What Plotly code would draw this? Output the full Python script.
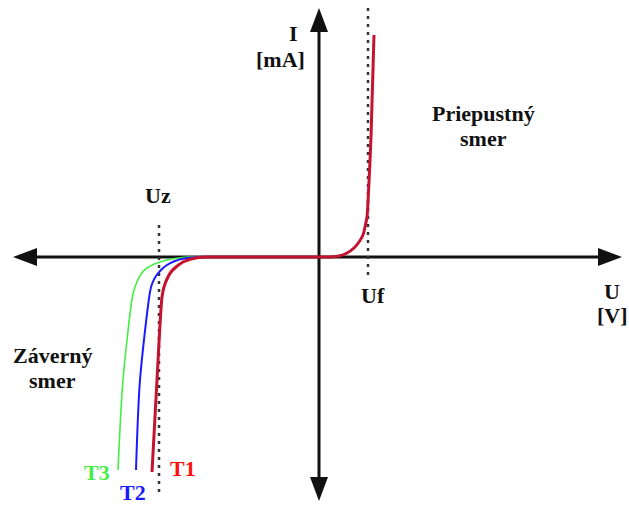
import plotly.graph_objects as go

# diagram units: 1 unit = 1 px, origin where the U and I axes cross
# T1 (red) - reverse branch, flat part, forward branch
t1_u = [-167, -162, -157, -155, -152, -148, -143, -136, -128, -120, -112, -60, 0, 12, 20, 28, 35, 40, 44, 46, 48, 49, 52, 55]
t1_i = [-215, -123, -40, -30, -22, -15, -10, -5, -2, -0.5, 0, 0, 0, 0, 1, 4, 9, 15, 22, 30, 40, 55, 120, 222]
# T2 (blue) - reverse branch only, joins the red curve on the axis
t2_u = [-183, -179, -169, -167, -163, -158, -152, -144, -135, -127, -119, -100]
t2_i = [-213, -123, -35, -27, -19, -13, -8, -4, -1.5, -0.5, 0, 0]
# T3 (green)
t3_u = [-201, -196, -187, -185, -182, -178, -172, -162, -152, -140, -131, -100]
t3_i = [-213, -123, -42, -33, -25, -17, -11, -6, -3, -1, 0, 0]

UZ = -160
UF = 49

X_MIN, X_MAX = -306, 303
Y_MIN, Y_MAX = -244, 249
HEAD_L, HEAD_W = 24, 18

FONT = "Liberation Serif"
BLACK = "#111111"

fig = go.Figure()
fig.add_trace(go.Scatter(x=t3_u, y=t3_i, mode="lines", line=dict(color="#44ee44", width=1.6, shape="spline", smoothing=0.8)))
fig.add_trace(go.Scatter(x=t2_u, y=t2_i, mode="lines", line=dict(color="#1a1aff", width=2, shape="spline", smoothing=0.8)))
fig.add_trace(go.Scatter(x=t1_u, y=t1_i, mode="lines", line=dict(color="#c4122f", width=3, shape="spline", smoothing=0.8)))

shapes = []
# axes
shapes.append(dict(type="line", x0=X_MIN + 5, x1=X_MAX - 5, y0=0, y1=0, line=dict(color=BLACK, width=3), layer="below"))
shapes.append(dict(type="line", x0=0, x1=0, y0=Y_MIN + 5, y1=Y_MAX - 5, line=dict(color=BLACK, width=3), layer="below"))
h = HEAD_W / 2
for path in [
    f"M {X_MIN},0 L {X_MIN + HEAD_L},{h} L {X_MIN + HEAD_L},{-h} Z",
    f"M {X_MAX},0 L {X_MAX - HEAD_L},{h} L {X_MAX - HEAD_L},{-h} Z",
    f"M 0,{Y_MAX} L {h},{Y_MAX - HEAD_L} L {-h},{Y_MAX - HEAD_L} Z",
    f"M 0,{Y_MIN} L {h},{Y_MIN + HEAD_L} L {-h},{Y_MIN + HEAD_L} Z",
]:
    shapes.append(dict(type="path", path=path, fillcolor=BLACK, line=dict(width=0), layer="below"))
# dotted guides for Uz and Uf
shapes.append(dict(type="line", x0=UZ, x1=UZ, y0=32, y1=-235, line=dict(color="#333333", width=2.5, dash="3px,5px"), layer="below"))
shapes.append(dict(type="line", x0=UF, x1=UF, y0=249, y1=-21, line=dict(color="#333333", width=2.5, dash="3px,5px"), layer="below"))

labels = [
    ("I", -26, 224, BLACK),
    ("[mA]", -39, 198, BLACK),
    ("Priepustný", 164, 144, BLACK),
    ("smer", 164, 119, BLACK),
    ("Uz", -161, 62, BLACK),
    ("Uf", 54, -38, BLACK),
    ("U", 293, -34, BLACK),
    ("[V]", 293, -58, BLACK),
    ("Záverný", -267, -98, BLACK),
    ("smer", -267, -123, BLACK),
    ("T3", -222, -215, "#44ee44"),
    ("T2", -186, -235, "#1a1aff"),
    ("T1", -136, -211, "#ff1010"),
]
annotations = [
    dict(text=f"<b>{t}</b>", x=x, y=y, xref="x", yref="y", showarrow=False,
         font=dict(family=FONT, size=22, color=c))
    for t, x, y, c in labels
]

fig.update_layout(
    width=629, height=505,
    margin=dict(l=0, r=0, t=0, b=0),
    paper_bgcolor="white", plot_bgcolor="white",
    showlegend=False,
    xaxis=dict(range=[-319, 310], visible=False, fixedrange=True),
    yaxis=dict(range=[-248, 257], visible=False, fixedrange=True),
    shapes=shapes,
    annotations=annotations,
)

# drop the browser's default body margin so the figure fills the window
fig.write_html("out.html", config={"displayModeBar": False},
               post_script="document.body.style.margin='0';")
